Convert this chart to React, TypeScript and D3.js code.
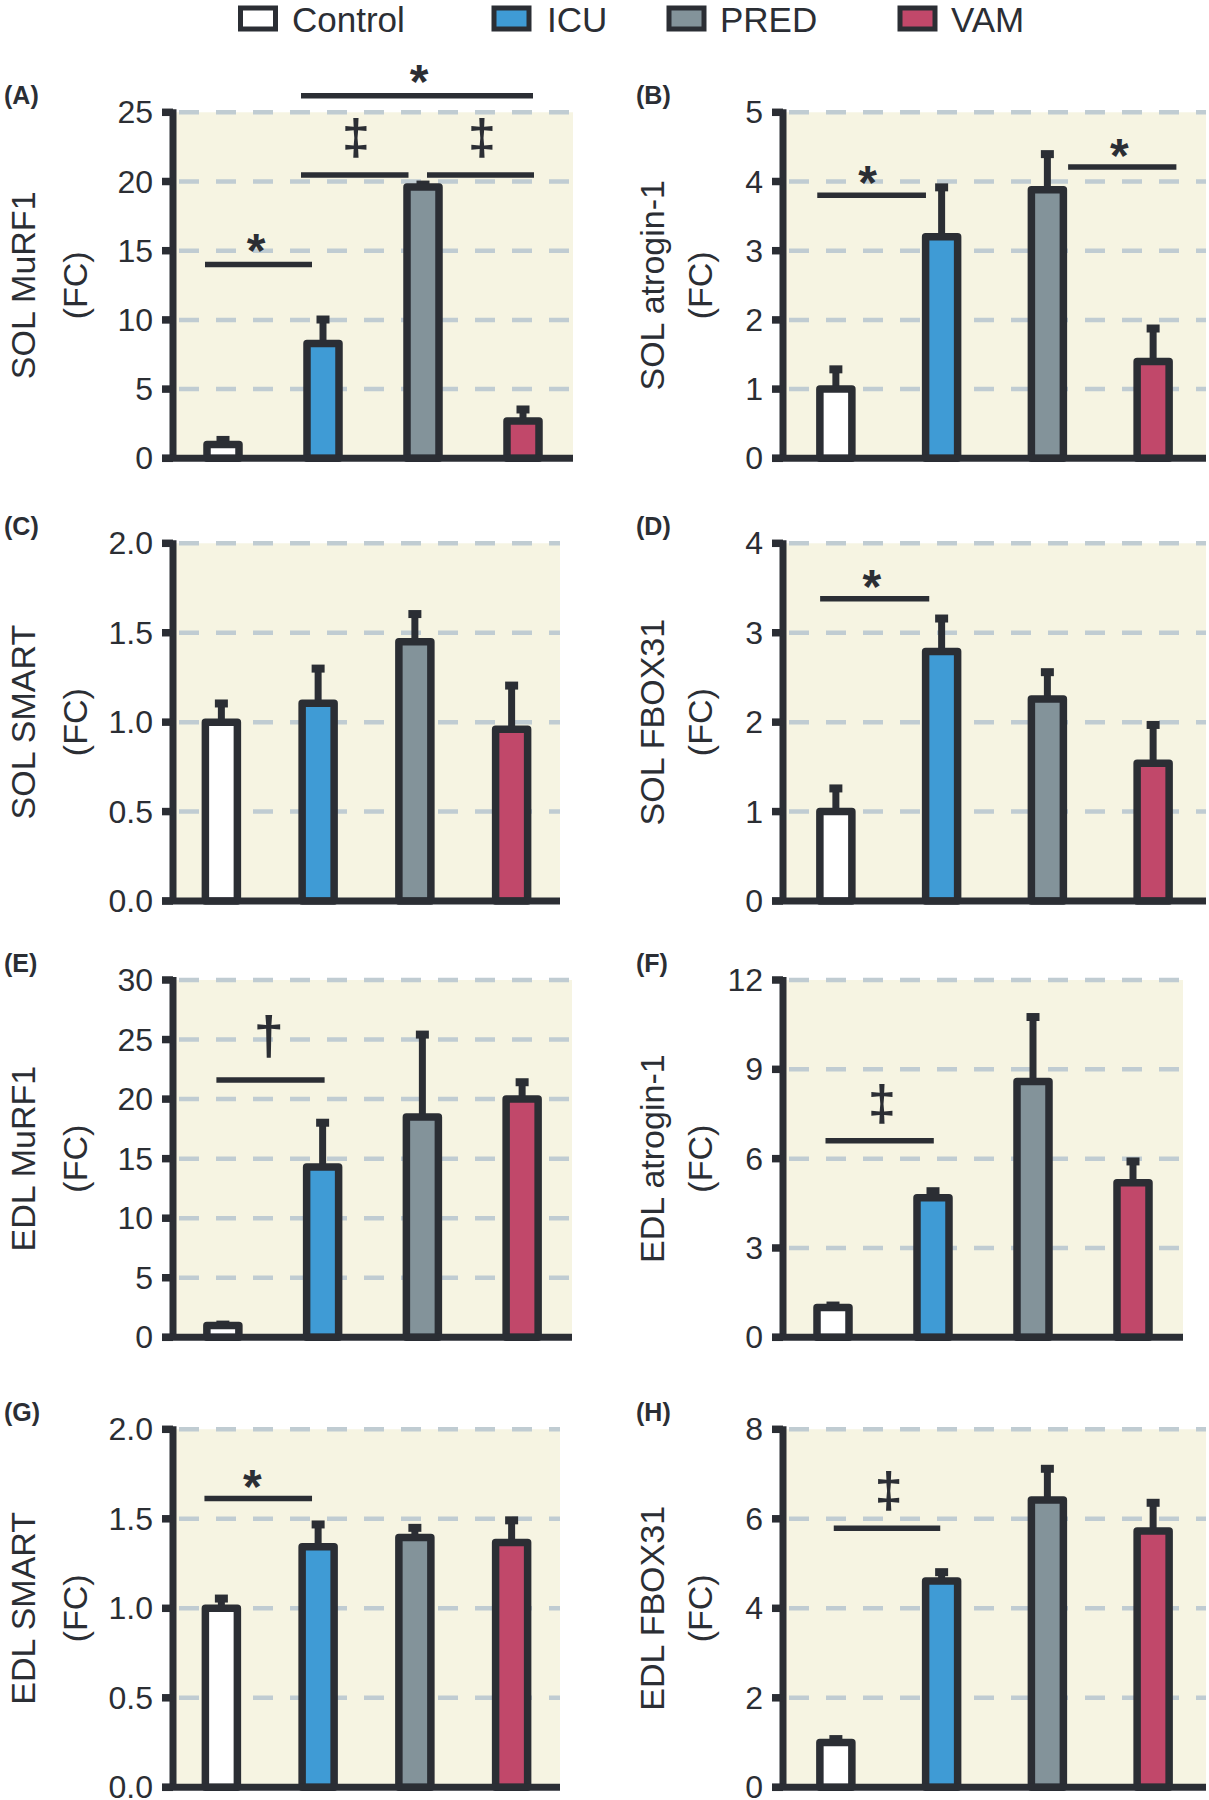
import React from 'react';
import * as d3 from 'd3';

const groups = ['Control', 'ICU', 'PRED', 'VAM'];
const groupColors = ['#ffffff', '#3f9bd5', '#83939a', '#c1486a'];

// Panel A: SOL MuRF1
const solMurf1Mean = [1.0, 8.3, 19.6, 2.7];
const solMurf1Err = [0.4, 1.8, 0.25, 0.9];
// Panel B: SOL atrogin-1
const solAtroginMean = [1.0, 3.2, 3.88, 1.4];
const solAtroginErr = [0.3, 0.73, 0.53, 0.49];
// Panel C: SOL SMART
const solSmartMean = [1.0, 1.105, 1.45, 0.96];
const solSmartErr = [0.11, 0.2, 0.16, 0.25];
// Panel D: SOL FBOX31
const solFbox31Mean = [1.0, 2.79, 2.26, 1.54];
const solFbox31Err = [0.27, 0.38, 0.31, 0.44];
// Panel E: EDL MuRF1
const edlMurf1Mean = [1.0, 14.3, 18.5, 20.0];
const edlMurf1Err = [0.15, 3.8, 7.0, 1.5];
// Panel F: EDL atrogin-1
const edlAtroginMean = [1.0, 4.69, 8.59, 5.19];
const edlAtroginErr = [0.1, 0.25, 2.2, 0.75];
// Panel G: EDL SMART
const edlSmartMean = [1.0, 1.344, 1.395, 1.367];
const edlSmartErr = [0.06, 0.13, 0.06, 0.13];
// Panel H: EDL FBOX31
const edlFbox31Mean = [1.0, 4.61, 6.42, 5.73];
const edlFbox31Err = [0.1, 0.22, 0.72, 0.65];

// significance annotations: bar span in group-index units, level in data units
const solMurf1Sig = [
  { from: -0.18, to: 0.89, level: 14.0, mark: '*', markAt: 0.33, markLevel: 15.8 },
  { from: 0.78, to: 1.855, level: 20.47, mark: '‡', markAt: 1.33, markLevel: 23.07 },
  { from: 2.04, to: 3.11, level: 20.47, mark: '‡', markAt: 2.59, markLevel: 23.07 },
  { from: 0.78, to: 3.1, level: 26.2, mark: '*', markAt: 1.96, markLevel: 28.0 },
];
const solAtroginSig = [
  { from: -0.176, to: 0.852, level: 3.8, mark: '*', markAt: 0.3, markLevel: 4.14 },
  { from: 2.196, to: 3.22, level: 4.21, mark: '*', markAt: 2.68, markLevel: 4.53 },
];
const solSmartSig: any[] = [];
const solFbox31Sig = [
  { from: -0.149, to: 0.883, level: 3.38, mark: '*', markAt: 0.34, markLevel: 3.63 },
];
const edlMurf1Sig = [
  { from: -0.065, to: 1.02, level: 21.6, mark: '†', markAt: 0.46, markLevel: 25.1 },
];
const edlAtroginSig = [
  { from: -0.075, to: 1.008, level: 6.6, mark: '‡', markAt: 0.49, markLevel: 7.79 },
];
const edlSmartSig = [
  { from: -0.175, to: 0.937, level: 1.614, mark: '*', markAt: 0.32, markLevel: 1.74 },
];
const edlFbox31Sig = [
  { from: -0.02, to: 0.987, level: 5.79, mark: '‡', markAt: 0.5, markLevel: 6.6 },
];

const panelLetters = ['(A)', '(B)', '(C)', '(D)', '(E)', '(F)', '(G)', '(H)'];
const yTitles = ['SOL MuRF1', 'SOL atrogin-1', 'SOL SMART', 'SOL FBOX31', 'EDL MuRF1', 'EDL atrogin-1', 'EDL SMART', 'EDL FBOX31'];
const yMaxes = [25, 5, 2, 4, 30, 12, 2, 8];
const yTickSteps = [5, 1, 0.5, 1, 5, 3, 0.5, 2];
const yTickDecimals = [0, 0, 1, 0, 0, 0, 1, 0];

const means = [solMurf1Mean, solAtroginMean, solSmartMean, solFbox31Mean, edlMurf1Mean, edlAtroginMean, edlSmartMean, edlFbox31Mean];
const errs = [solMurf1Err, solAtroginErr, solSmartErr, solFbox31Err, edlMurf1Err, edlAtroginErr, edlSmartErr, edlFbox31Err];
const sigs = [solMurf1Sig, solAtroginSig, solSmartSig, solFbox31Sig, edlMurf1Sig, edlAtroginSig, edlSmartSig, edlFbox31Sig];

// layout
const W = 1209;
const H = 1800;
const FONT = '"Liberation Sans", Arial, Helvetica, sans-serif';
const INK = '#2b2e34';
const GRID = '#c0ccd2';
const BG = '#f6f4e2';
const colLayout = [
  { axisX: 173, title1X: 23, title2X: 75, letterX: 4 },
  { axisX: 783, title1X: 652, title2X: 700, letterX: 636 },
];
const rowLayout = [
  { top: 112.3, zero: 458.3 },
  { top: 543.3, zero: 901 },
  { top: 980, zero: 1337.3 },
  { top: 1429.3, zero: 1787.3 },
];
const rightEdges = [573, 1206, 560, 1206, 572, 1183, 560, 1206];

const markStyle: Record<string, { size: number; dy: number }> = {
  '*': { size: 48, dy: 27 },
  '‡': { size: 50, dy: 15 },
  '†': { size: 54, dy: 16 },
};

function Panel({ i }: { i: number }) {
  const col = colLayout[i % 2];
  const row = rowLayout[Math.floor(i / 2)];
  const x0 = col.axisX;
  const x1 = rightEdges[i];
  const y = d3.scaleLinear().domain([0, yMaxes[i]]).range([row.zero, row.top]);
  const x = d3.scalePoint<string>().domain(groups).range([x0, x1]).padding(0.5);
  const step = x.step();
  const idx = (v: number) => (x(groups[0]) as number) + v * step;
  const ticks = d3.range(0, yMaxes[i] + yTickSteps[i] / 2, yTickSteps[i]);
  const fmt = d3.format(`.${yTickDecimals[i]}f`);
  const barW = 32;
  const midY = (row.top + row.zero) / 2;

  return (
    <g>
      <text x={col.letterX} y={row.top - 8} fontFamily={FONT} fontWeight="bold" fontSize={25} fill={INK}>
        {panelLetters[i]}
      </text>
      <text
        transform={`translate(${col.title1X},${midY}) rotate(-90)`}
        textAnchor="middle"
        dominantBaseline="central"
        fontFamily={FONT}
        fontSize={34}
        fill={INK}
      >
        {yTitles[i]}
      </text>
      <text
        transform={`translate(${col.title2X},${midY}) rotate(-90)`}
        textAnchor="middle"
        dominantBaseline="central"
        fontFamily={FONT}
        fontSize={34}
        fill={INK}
      >
        (FC)
      </text>
      <rect x={x0} y={row.top} width={x1 - x0} height={row.zero - row.top} fill={BG} />
      {ticks
        .filter((t) => t > 0)
        .map((t) => (
          <line key={'g' + t} x1={x0 + 6} x2={x1} y1={y(t)} y2={y(t)} stroke={GRID} strokeWidth={4.5} strokeDasharray="20 17" />
        ))}
      {ticks.map((t) => (
        <text
          key={'t' + t}
          x={x0 - 20}
          y={y(t)}
          textAnchor="end"
          dominantBaseline="central"
          fontFamily={FONT}
          fontSize={32}
          fill={INK}
        >
          {fmt(t)}
        </text>
      ))}
      {groups.map((g, k) => {
        const cx = x(g) as number;
        const top = y(means[i][k] + errs[i][k]);
        return (
          <g key={g}>
            <line x1={cx} x2={cx} y1={y(means[i][k])} y2={top} stroke={INK} strokeWidth={7} />
            <line x1={cx - 6.5} x2={cx + 6.5} y1={top + 1} y2={top + 1} stroke={INK} strokeWidth={8} />
            <rect
              x={cx - barW / 2}
              y={y(means[i][k])}
              width={barW}
              height={row.zero - y(means[i][k])}
              fill={groupColors[k]}
              stroke={INK}
              strokeWidth={7.5}
              strokeLinejoin="round"
            />
          </g>
        );
      })}
      {sigs[i].map((s: any, k: number) => (
        <g key={'s' + k}>
          <line x1={idx(s.from)} x2={idx(s.to)} y1={y(s.level)} y2={y(s.level)} stroke={INK} strokeWidth={5.5} />
          <text
            x={idx(s.markAt)}
            y={y(s.markLevel) + markStyle[s.mark].dy}
            textAnchor="middle"
            fontFamily={FONT}
            fontWeight="bold"
            fontSize={markStyle[s.mark].size}
            fill={INK}
          >
            {s.mark}
          </text>
        </g>
      ))}
      <line x1={x0} x2={x0} y1={row.top - 3} y2={row.zero} stroke={INK} strokeWidth={7} />
      {ticks.map((t) => (
        <line key={'k' + t} x1={x0 - 11} x2={x0} y1={y(t)} y2={y(t)} stroke={INK} strokeWidth={7.5} />
      ))}
      <line x1={x0 - 11} x2={x1} y1={row.zero} y2={row.zero} stroke={INK} strokeWidth={7} />
    </g>
  );
}

const legendBoxX = [240.5, 494, 669, 900];
const legendTextX = [292, 547, 720, 951];

export default function App() {
  return (
    <svg width={W} height={H} style={{ position: 'absolute', left: 0, top: 0, background: '#ffffff' }}>
      <rect x={0} y={0} width={W} height={H} fill="#ffffff" />
      {groups.map((g, k) => (
        <g key={g}>
          <rect x={legendBoxX[k]} y={8} width={35} height={21} fill={groupColors[k]} stroke={INK} strokeWidth={5} />
          <text x={legendTextX[k]} y={32} fontFamily={FONT} fontSize={35} fill={INK}>
            {g}
          </text>
        </g>
      ))}
      {d3.range(8).map((i) => (
        <Panel key={i} i={i} />
      ))}
    </svg>
  );
}
